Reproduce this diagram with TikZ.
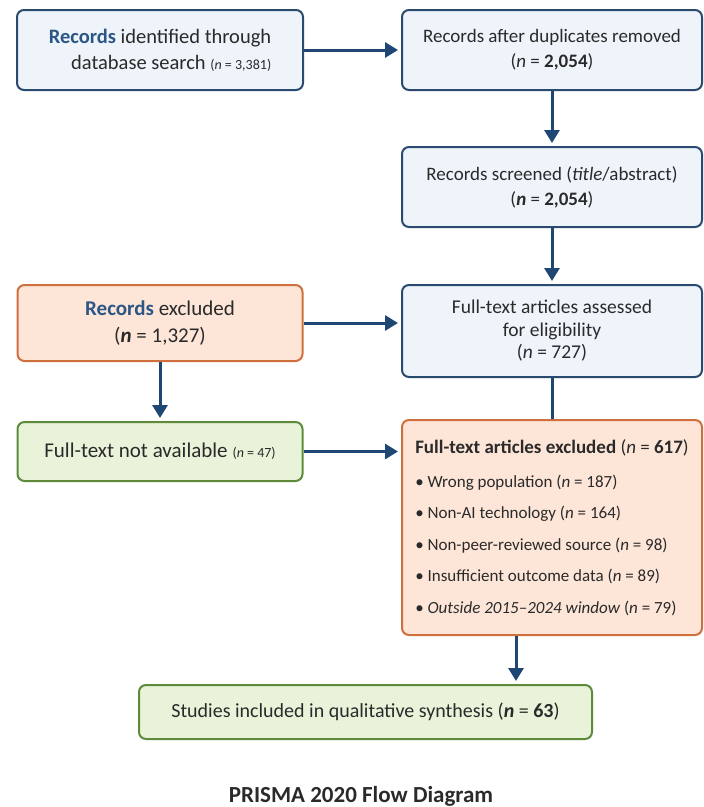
\documentclass[tikz,border=0pt]{standalone}
\usepackage{fontspec}
\setmainfont{Carlito}
\usetikzlibrary{arrows.meta,positioning,calc}
\definecolor{boxblue}{HTML}{2A4A70}
\definecolor{fillblue}{HTML}{EEF4FA}
\definecolor{boxred}{HTML}{CF6F3E}
\definecolor{fillred}{HTML}{FDE6D8}
\definecolor{boxgreen}{HTML}{5E8A3C}
\definecolor{fillgreen}{HTML}{E9F3D9}
\definecolor{arrowblue}{HTML}{1E4873}
\definecolor{titleblue}{HTML}{2B5685}
\definecolor{textgray}{HTML}{2A2A2A}
\newcommand{\smallnum}[1]{{\fontsize{14}{16}\selectfont #1}}
\newcommand{\fs}[2]{\fontsize{#1}{#2}\selectfont}
\begin{document}
\begin{tikzpicture}[x=1pt, y=-1pt,
  every node/.style={font=\fs{19}{25}, text=textgray},
  box/.style={draw, rounded corners=7pt, line width=2pt, align=center, inner sep=0pt},
  bluebox/.style={box, draw=boxblue, fill=fillblue},
  redbox/.style={box, draw=boxred, fill=fillred},
  greenbox/.style={box, draw=boxgreen, fill=fillgreen},
  flow/.style={line width=3pt, draw=arrowblue, shorten >=3pt, -{Triangle[length=13pt,width=15pt]}},
  link/.style={line width=3pt, draw=arrowblue}]
\useasboundingbox (0,0) rectangle (704,807);
% left column
\node[bluebox, minimum width=286pt, minimum height=80pt, align=right, font=\fs{20.5}{26}] (ident) at (160,50)
  {\textcolor{titleblue}{\textbf{Records}} identified through\\ database search \smallnum{(\textit{n} = 3,381)}};
\node[redbox, minimum width=285pt, minimum height=76pt, font=\fs{21}{27}] (excl) at (160,323)
  {\textcolor{titleblue}{\textbf{Records}} excluded\\ (\textbf{\textit{n}} = 1,327)};
\node[greenbox, minimum width=285pt, minimum height=59pt, font=\fs{21}{25}] (nofull) at (160,451.5)
  {Full-text not available \smallnum{(\textit{n} = 47)}};
% right column
\node[bluebox, minimum width=300pt, minimum height=80pt] (dupl) at (552,50)
  {Records after duplicates removed\\ (\textit{n} = \textbf{2,054})};
\node[bluebox, minimum width=300pt, minimum height=80pt] (screen) at (552,187)
  {Records screened (\textit{title}/abstract)\\ (\textbf{\textit{n}} = \textbf{2,054})};
\node[bluebox, minimum width=300pt, minimum height=92pt, font=\fs{19.5}{22.5}] (elig) at (552,331)
  {Full-text articles assessed\\ for eligibility\\ (\textit{n} = 727)};
\node[redbox, minimum width=300pt, minimum height=215pt, align=left, font=\fs{17}{31.5}] (ftexcl) at (552,527.5)
  {{\fs{19}{24}\textbf{Full-text articles excluded} (\textit{n} = \textbf{617})}\\[2pt]
   \textbullet\ Wrong population (\textit{n} = 187)\\
   \textbullet\ Non-AI technology (\textit{n} = 164)\\
   \textbullet\ Non-peer-reviewed source (\textit{n} = 98)\\
   \textbullet\ Insufficient outcome data (\textit{n} = 89)\\
   \textbullet\ \textit{Outside 2015--2024 window} (\textit{n} = 79)};
% bottom
\node[greenbox, minimum width=453pt, minimum height=54pt, font=\fs{20}{24}] (incl) at (365.5,712)
  {Studies included in qualitative synthesis (\textbf{\textit{n}} = \textbf{63})};
\node[font=\bfseries\fs{23}{26}] (title) at (361,796) {PRISMA 2020 Flow Diagram};
% connectors
\draw[flow] (ident) -- (dupl);
\draw[flow] (dupl) -- (screen);
\draw[flow] (screen) -- (elig);
\draw[flow] (excl) -- (excl -| elig.west);
\draw[flow] (excl) -- (nofull);
\draw[flow] (nofull) -- (nofull -| ftexcl.west);
\draw[link] (elig) -- (ftexcl);
\draw[flow] ([xshift=-36pt]ftexcl.south) -- ([xshift=-36pt]ftexcl.south |- incl.north);
\end{tikzpicture}
\end{document}
